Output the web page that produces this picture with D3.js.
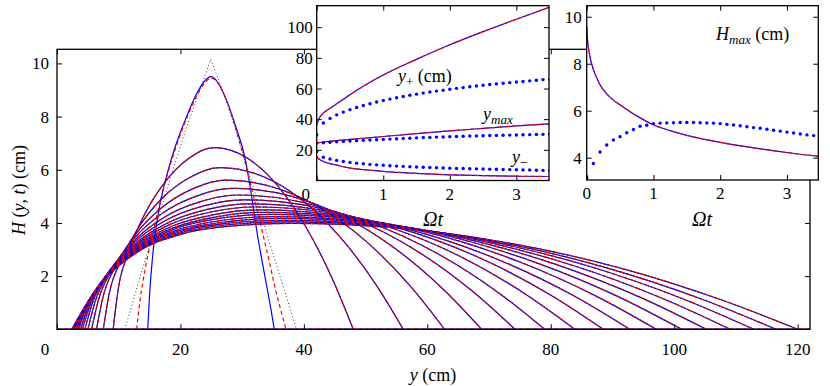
<!DOCTYPE html>
<html><head><meta charset="utf-8">
<script src="https://cdn.jsdelivr.net/npm/d3@7"></script>
<style>
body{margin:0;background:#fff}
svg{display:block}
</style></head>
<body><svg id="c" width="830" height="386" font-family="'Liberation Serif','DejaVu Serif','Noto Serif','Times New Roman',Times,serif"></svg>
<script>
// ---------- main panel data: H(y,t) profiles (y in cm, H in cm) ----------
const profileTimes = [0,0.25,0.5,0.75,1,1.25,1.5,1.75,2,2.25,2.5,2.75,3,3.25,3.5,3.75,4];
const blueFirst = [[14.7,0],[15.0,1.3],[15.6,3.0],[16.6,4.6],[17.8,5.8],[19.5,7.1],[21,8.0],[22.5,8.8],[23.8,9.3],[24.9,9.5],[26,9.3],[27.5,8.6],[29,7.6],[30.4,6.5],[31.4,5.2],[32.3,3.8],[33.2,2.6],[34,1.6],[34.7,0.7],[35.2,0]];
const redFirst = [[12.9,0],[13.4,1.0],[14.4,2.4],[15.8,3.9],[17.5,5.5],[19.5,7.0],[21.5,8.2],[23.3,9.05],[25,9.45],[26.5,9.1],[28,8.25],[29.5,7.1],[31,5.8],[32.5,4.4],[34,2.95],[35.3,1.6],[36.4,0.6],[37.1,0]];
const blackFirst = [[11,0],[13.5,2.0],[16,3.9],[18.5,5.8],[21,7.6],[23,8.9],[24.9,10.15],[27,8.9],[29.5,7.1],[32,5.2],[34.5,3.2],[36.8,1.5],[38.8,0]];
const laterProfiles = [
 [[9.1,0],[9.91,1.50],[11.54,2.87],[13.99,4.23],[17.25,5.46],[21.32,6.42],[25.4,6.83],[34.44,5.74],[40.09,3.94],[44.61,1.90],[48,0]],
 [[7.5,0],[8.44,1.32],[10.33,2.57],[13.17,3.81],[16.95,4.91],[21.67,5.73],[26.4,6.08],[38.28,5.11],[45.71,3.51],[51.65,1.69],[56.1,0]],
 [[6.4,0],[7.45,1.21],[9.55,2.40],[12.7,3.56],[16.9,4.56],[22.15,5.30],[27.4,5.61],[41.56,4.71],[50.41,3.24],[57.49,1.56],[62.8,0]],
 [[5.6,0],[6.74,1.12],[9.02,2.28],[12.44,3.40],[17.0,4.35],[22.7,5.02],[28.4,5.30],[44.56,4.45],[54.66,3.06],[62.74,1.47],[68.8,0]],
 [[5.0,0],[6.21,1.06],[8.64,2.19],[12.29,3.28],[17.15,4.18],[23.22,4.80],[29.3,5.05],[47.26,4.24],[58.49,2.92],[67.47,1.40],[74.2,0]],
 [[4.5,0],[5.78,1.01],[8.35,2.13],[12.21,3.20],[17.35,4.06],[23.77,4.64],[30.2,4.87],[49.72,4.09],[61.92,2.81],[71.68,1.35],[79,0]],
 [[4.1,0],[5.45,0.96],[8.15,2.08],[12.2,3.13],[17.6,3.96],[24.35,4.51],[31.1,4.72],[52.22,3.96],[65.42,2.73],[75.98,1.31],[83.9,0]],
 [[3.8,0],[5.21,0.92],[8.03,2.04],[12.26,3.09],[17.9,3.90],[24.95,4.41],[32.0,4.60],[54.6,3.86],[68.73,2.66],[80.03,1.28],[88.5,0]],
 [[3.5,0],[4.96,0.89],[7.89,2.01],[12.29,3.05],[18.15,3.83],[25.47,4.31],[32.8,4.49],[56.8,3.77],[71.8,2.59],[83.8,1.25],[92.8,0]],
 [[3.3,0],[4.81,0.86],[7.84,1.98],[12.39,3.02],[18.45,3.78],[26.02,4.24],[33.6,4.40],[59.0,3.70],[74.88,2.54],[87.58,1.22],[97.1,0]],
 [[3.1,0],[4.66,0.83],[7.79,1.96],[12.49,2.99],[18.75,3.75],[26.57,4.18],[34.4,4.32],[61.12,3.63],[77.82,2.49],[91.18,1.20],[101.2,0]],
 [[2.9,0],[4.51,0.81],[7.74,1.94],[12.59,2.97],[19.05,3.70],[27.12,4.11],[35.2,4.24],[63.2,3.56],[80.7,2.45],[94.7,1.18],[105.2,0]],
 [[2.7,0],[4.36,0.78],[7.68,1.92],[12.66,2.95],[19.3,3.67],[27.6,4.05],[35.9,4.17],[65.18,3.50],[83.48,2.41],[98.12,1.16],[109.1,0]],
 [[2.6,0],[4.3,0.76],[7.7,1.90],[12.8,2.93],[19.6,3.64],[28.1,4.00],[36.6,4.10],[67.12,3.44],[86.2,2.37],[101.46,1.14],[112.9,0]],
 [[2.5,0],[4.24,0.74],[7.72,1.89],[12.94,2.92],[19.9,3.61],[28.6,3.95],[37.3,4.04],[68.98,3.39],[88.78,2.33],[104.62,1.12],[116.5,0]],
 [[2.4,0],[4.18,0.72],[7.74,1.87],[13.08,2.91],[20.2,3.58],[29.1,3.90],[38.0,3.98],[70.8,3.34],[91.3,2.30],[107.7,1.10],[120,0]]
];
const blueProfiles = [blueFirst, ...laterProfiles];
const redProfiles = [redFirst, ...laterProfiles];
const blackProfiles = [blackFirst, ...laterProfiles];
const mainXTicks = [0,20,40,60,80,100,120];
const mainYTicks = [2,4,6,8,10];

// ---------- inset 1: y+, ymax, y- versus Omega t ----------
const tLine = [0,0.02,0.05,0.1,0.2,0.3,0.5,0.75,1,1.5,2,2.5,3,3.5];
const yPlusLine = [36.3,39,41.5,44,47,50,56,62.8,68.8,79,88.5,97.1,105.2,113];
const yMaxLine = [24.5,24.6,24.8,25.1,25.6,26,26.8,27.7,28.7,30.6,32.4,34,35.6,37];
const yMinusLine = [15.6,14.5,13.5,12.4,11,10,8.1,6.9,5.9,4.6,3.7,3.2,2.8,2.6];
const tDots = [0,0.1,0.2,0.3,0.4,0.5,0.6,0.7,0.8,0.9,1,1.1,1.2,1.3,1.4,1.5,1.6,1.7,1.8,1.9,2,2.1,2.2,2.3,2.4,2.5,2.6,2.7,2.8,2.9,3,3.1,3.2,3.3,3.4,3.5];
const yPlusDots = [29.8,37.5,40.5,42.8,44.6,46.2,47.6,48.9,50.1,51.2,52.2,53.1,54.0,54.8,55.6,56.3,57.0,57.7,58.3,58.9,59.5,60.1,60.6,61.1,61.6,62.1,62.6,63.0,63.4,63.8,64.2,64.6,65.0,65.4,65.8,66.2];
const yMaxDots = [24.4,24.6,24.9,25.2,25.5,25.8,26.0,26.2,26.4,26.6,26.8,27.0,27.2,27.4,27.6,27.8,28.0,28.1,28.3,28.4,28.6,28.7,28.9,29.0,29.1,29.2,29.3,29.4,29.5,29.6,29.7,29.8,29.9,30.0,30.1,30.2];
const yMinusDots = [18.9,15.2,14.0,13.1,12.4,11.8,11.3,10.9,10.5,10.2,9.9,9.6,9.4,9.2,9.0,8.8,8.6,8.5,8.3,8.2,8.0,7.9,7.8,7.7,7.6,7.5,7.4,7.3,7.2,7.1,7.0,6.9,6.8,6.7,6.6,6.5];
const inset1YTicks = [20,40,60,80,100];
const insetXTicks = [0,1,2,3];

// ---------- inset 2: Hmax versus Omega t ----------
const tHLine = [0,0.01,0.03,0.06,0.1,0.15,0.2,0.3,0.4,0.5,0.75,1,1.25,1.5,2,2.5,3,3.5];
const hMaxLine = [9.6,9.1,8.6,8.15,7.75,7.4,7.1,6.72,6.45,6.25,5.78,5.4,5.15,4.95,4.65,4.42,4.22,4.05];
const hMaxDots = [3.16,3.75,4.24,4.54,4.75,4.89,5.06,5.2,5.34,5.38,5.45,5.47,5.48,5.49,5.5,5.5,5.5,5.49,5.48,5.47,5.45,5.42,5.39,5.36,5.32,5.28,5.25,5.21,5.17,5.13,5.09,5.05,5.01,4.97,4.94,4.9];
const inset2YTicks = [4,6,8,10];

const BLUE = "#0000ff", RED = "#ff0000";
const SERIF = "'Liberation Serif','DejaVu Serif','Noto Serif','Times New Roman',Times,serif";
const LW = 1.2;
const svg = d3.select("#c");

// ---------------- main panel ----------------
const mx = d3.scaleLinear().domain([0,122]).range([57,810]);
const my = d3.scaleLinear().domain([0,10.53]).range([329.3,49.3]);
svg.append("clipPath").attr("id","mclip").append("rect")
  .attr("x",57).attr("y",49.3).attr("width",753).attr("height",280);
const mg = svg.append("g").attr("clip-path","url(#mclip)");
const lineSmooth = d3.line().x(d=>mx(d[0])).y(d=>my(d[1])).curve(d3.curveMonotoneX);
const lineStraight = d3.line().x(d=>mx(d[0])).y(d=>my(d[1]));

mg.append("line").attr("x1",mx(0)).attr("x2",mx(122)).attr("y1",my(0)).attr("y2",my(0))
  .attr("stroke",BLUE).attr("stroke-width",1.4);
mg.append("line").attr("x1",mx(0)).attr("x2",mx(122)).attr("y1",my(0)).attr("y2",my(0))
  .attr("stroke",RED).attr("stroke-width",1.4).attr("stroke-dasharray","4,3");

profileTimes.forEach((t,i)=>{
  mg.append("path").attr("d",lineSmooth(blueProfiles[i])).attr("fill","none")
    .attr("stroke",BLUE).attr("stroke-width",LW);
  mg.append("path").attr("d",lineSmooth(redProfiles[i])).attr("fill","none")
    .attr("stroke",RED).attr("stroke-width",LW).attr("stroke-dasharray","4,3");
  mg.append("path").attr("d",(i===0?lineStraight:lineSmooth)(blackProfiles[i])).attr("fill","none")
    .attr("stroke","#222").attr("stroke-width",0.9).attr("stroke-dasharray","1,2.5");
});

function frame(g, x, y, xt, yt, opts){
  const [x0,x1]=x.range(), [y0,y1]=y.range();
  const T=5;
  g.append("g").attr("transform",`translate(0,${y0})`)
    .call(d3.axisBottom(x).tickValues(xt).tickSizeInner(-T).tickSizeOuter(0).tickFormat(""))
    .call(s=>s.select(".domain").remove());
  g.append("g").attr("transform",`translate(0,${y1})`)
    .call(d3.axisTop(x).tickValues(xt).tickSizeInner(-T).tickSizeOuter(0).tickFormat(""))
    .call(s=>s.select(".domain").remove());
  g.append("g").attr("transform",`translate(${x0},0)`)
    .call(d3.axisLeft(y).tickValues(yt).tickSizeInner(-T).tickSizeOuter(0).tickFormat(""))
    .call(s=>s.select(".domain").remove());
  g.append("g").attr("transform",`translate(${x1},0)`)
    .call(d3.axisRight(y).tickValues(yt).tickSizeInner(-T).tickSizeOuter(0).tickFormat(""))
    .call(s=>s.select(".domain").remove());
  g.selectAll(".tick line").attr("stroke","#000").attr("stroke-width",1);
  g.append("rect").attr("x",x0).attr("y",y1).attr("width",x1-x0).attr("height",y0-y1)
    .attr("fill","none").attr("stroke","#000").attr("stroke-width",1.3);
  g.selectAll(null).data(xt).enter().append("text")
    .attr("x",d=>x(d)+(d===0?opts.zeroShift:0)).attr("y",y0+opts.xLabDy)
    .attr("text-anchor","middle").attr("font-size",17).text(d=>d);
  g.selectAll(null).data(yt).enter().append("text")
    .attr("x",x0-opts.yLabDx).attr("y",d=>y(d)+6)
    .attr("text-anchor","end").attr("font-size",17).text(d=>d);
}
const mainFrame = svg.append("g");
frame(mainFrame, mx, my, mainXTicks, mainYTicks, {zeroShift:-12, xLabDy:26, yLabDx:8});

const yl = svg.append("text").attr("transform","translate(25,190) rotate(-90)")
  .attr("text-anchor","middle").attr("font-size",18);
yl.append("tspan").attr("font-style","italic").text("H");
yl.append("tspan").text(" (");
yl.append("tspan").attr("font-style","italic").text("y");
yl.append("tspan").text(", ");
yl.append("tspan").attr("font-style","italic").text("t");
yl.append("tspan").text(") (cm)");
const xl = svg.append("text").attr("x",433).attr("y",381).attr("text-anchor","middle").attr("font-size",18);
xl.append("tspan").attr("font-style","italic").text("y");
xl.append("tspan").text(" (cm)");

// ---------------- inset 1 ----------------
const ax = d3.scaleLinear().domain([0,3.49]).range([316.7,549]);
const ay = d3.scaleLinear().domain([0,114]).range([180.5,5.7]);
const g1 = svg.append("g");
g1.append("rect").attr("x",316.7).attr("y",5.7).attr("width",549-316.7).attr("height",180.5-5.7).attr("fill","#fff");
g1.append("clipPath").attr("id","c1").append("rect").attr("x",316.7).attr("y",5.7).attr("width",549-316.7).attr("height",180.5-5.7);
const g1p = g1.append("g").attr("clip-path","url(#c1)");
const l1 = d3.line().curve(d3.curveMonotoneX);
[yPlusLine,yMaxLine,yMinusLine].forEach(arr=>{
  const pts = tLine.map((t,i)=>[ax(t),ay(arr[i])]);
  g1p.append("path").attr("d",l1(pts)).attr("fill","none").attr("stroke",BLUE).attr("stroke-width",LW);
  g1p.append("path").attr("d",l1(pts)).attr("fill","none").attr("stroke",RED).attr("stroke-width",LW).attr("stroke-dasharray","4,3");
});
[yPlusDots,yMaxDots,yMinusDots].forEach(arr=>{
  g1p.selectAll(null).data(tDots).enter().append("circle")
    .attr("cx",(t)=>ax(t)).attr("cy",(t,i)=>ay(arr[i])).attr("r",1.7).attr("fill",BLUE);
});
frame(g1, ax, ay, insetXTicks, inset1YTicks, {zeroShift:-11, xLabDy:19, yLabDx:4});
g1.append("text").attr("x",433).attr("y",226).attr("text-anchor","middle").attr("font-size",20).attr("font-style","italic").text("\u03A9t");
const ta = g1.append("text").attr("x",398).attr("y",82).attr("font-size",18);
ta.append("tspan").attr("font-style","italic").text("y");
ta.append("tspan").attr("font-size",13).attr("dy",4).text("+");
ta.append("tspan").attr("dy",-4).text(" (cm)");
const tb = g1.append("text").attr("x",483).attr("y",120).attr("font-size",18);
tb.append("tspan").attr("font-style","italic").text("y");
tb.append("tspan").attr("font-size",13).attr("dy",4).attr("font-style","italic").text("max");
const tc = g1.append("text").attr("x",512).attr("y",163).attr("font-size",18);
tc.append("tspan").attr("font-style","italic").text("y");
tc.append("tspan").attr("font-size",14).attr("dy",4).text("\u2212");

// ---------------- inset 2 ----------------
const bx = d3.scaleLinear().domain([0,3.47]).range([586.7,818.3]);
const by = d3.scaleLinear().domain([3.05,10.47]).range([180,5.7]);
const g2 = svg.append("g");
g2.append("rect").attr("x",586.7).attr("y",5.7).attr("width",818.3-586.7).attr("height",180-5.7).attr("fill","#fff");
g2.append("clipPath").attr("id","c2").append("rect").attr("x",586.7).attr("y",5.7).attr("width",818.3-586.7).attr("height",180-5.7);
const g2p = g2.append("g").attr("clip-path","url(#c2)");
const hpts = tHLine.map((t,i)=>[bx(t),by(hMaxLine[i])]);
g2p.append("path").attr("d",l1(hpts)).attr("fill","none").attr("stroke",BLUE).attr("stroke-width",LW);
g2p.append("path").attr("d",l1(hpts)).attr("fill","none").attr("stroke",RED).attr("stroke-width",LW).attr("stroke-dasharray","4,3");
g2p.selectAll(null).data(tDots).enter().append("circle")
  .attr("cx",t=>bx(t)).attr("cy",(t,i)=>by(hMaxDots[i])).attr("r",1.7).attr("fill",BLUE);
frame(g2, bx, by, insetXTicks, inset2YTicks, {zeroShift:0, xLabDy:19, yLabDx:5});
g2.append("text").attr("x",702).attr("y",226).attr("text-anchor","middle").attr("font-size",20).attr("font-style","italic").text("\u03A9t");
const td = g2.append("text").attr("x",716).attr("y",40).attr("font-size",18);
td.append("tspan").attr("font-style","italic").text("H");
td.append("tspan").attr("font-size",13).attr("dy",4).attr("font-style","italic").text("max");
td.append("tspan").attr("dy",-4).text(" (cm)");

svg.selectAll("text").style("font-family", SERIF).attr("fill","#000");
</script></body></html>
